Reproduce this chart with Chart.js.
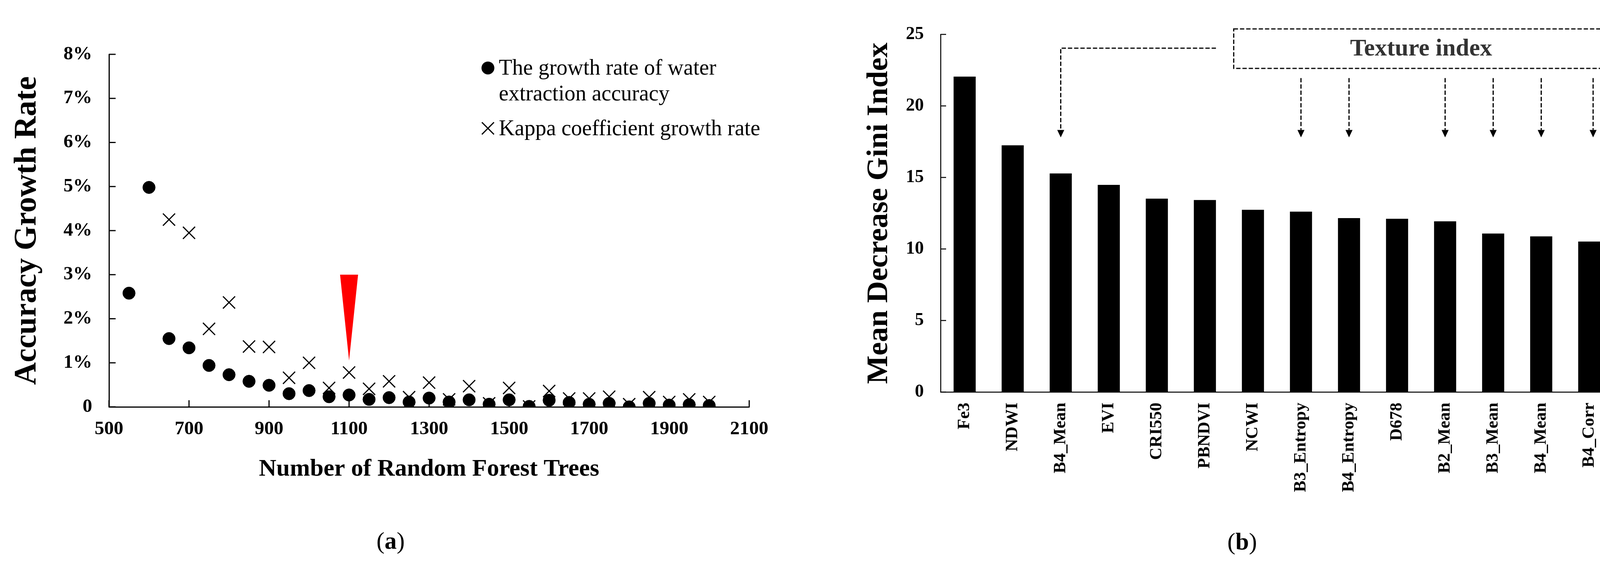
<!DOCTYPE html>
<html><head><meta charset="utf-8">
<script src="https://cdn.jsdelivr.net/npm/chart.js@4.4.0/dist/chart.umd.min.js"></script>
<style>
html,body{margin:0;padding:0;background:#fff;width:4177px;height:1443px;overflow:hidden;}
#ca{position:absolute;left:0;top:0;width:2080px;height:1443px;}
#cb{position:absolute;left:2080px;top:0;width:2097px;height:1443px;}
</style></head><body>
<canvas id="ca" width="2080" height="1443"></canvas>
<canvas id="cb" width="2097" height="1443"></canvas>
<script>
// ---------- Data: panel (a) ----------
const treeCounts = [550,600,650,700,750,800,850,900,950,1000,1050,1100,1150,1200,1250,1300,1350,1400,1450,1500,1550,1600,1650,1700,1750,1800,1850,1900,1950,2000];
const waterAccuracyGrowth = [2.58,4.98,1.55,1.34,0.94,0.73,0.58,0.49,0.30,0.37,0.23,0.27,0.17,0.21,0.11,0.20,0.11,0.16,0.06,0.16,0.01,0.15,0.10,0.06,0.08,0.00,0.08,0.04,0.05,0.03];
const kappaGrowth = [null,null,4.25,3.95,1.77,2.37,1.37,1.36,0.66,1.00,0.43,0.78,0.41,0.58,0.22,0.55,0.17,0.47,0.08,0.43,0.01,0.36,0.19,0.19,0.23,0.06,0.22,0.11,0.17,0.11];
const xTickValuesA = [500,700,900,1100,1300,1500,1700,1900,2100];
const yTickValuesA = [0,1,2,3,4,5,6,7,8];
const seriesNamesA = [['The growth rate of water','extraction accuracy'],['Kappa coefficient growth rate']];
const markerTrees = 1100;       // selected number of trees (red marker)
const markerRange = [3.0,1.05]; // marker top / tip (%)

// ---------- Data: panel (b) ----------
const features = ['Fe3','NDWI','B4_Mean','EVI','CRI550','PBNDVI','NCWI','B3_Entropy','B4_Entropy','D678','B2_Mean','B3_Mean','B4_Mean','B4_Corr'];
const giniValues = [22.05,17.25,15.28,14.48,13.52,13.42,12.74,12.61,12.16,12.11,11.93,11.08,10.88,10.52];
const yTickValuesB = [0,5,10,15,20,25];
const textureFeatureIdx = [2,7,8,10,11,12,13];

const serif = "'Liberation Serif','Times New Roman',serif";

function drawCaption(ctx, cx, cy, letter){
  ctx.save();
  ctx.fillStyle='#000'; ctx.textBaseline='middle'; ctx.textAlign='left';
  const reg = '62px '+serif, bold = 'bold 62px '+serif;
  ctx.font=reg; const w1=ctx.measureText('(').width, w3=ctx.measureText(')').width;
  ctx.font=bold; const w2=ctx.measureText(letter).width;
  let x = cx-(w1+w2+w3)/2;
  ctx.font=reg; ctx.fillText('(',x,cy); x+=w1;
  ctx.font=bold; ctx.fillText(letter,x,cy); x+=w2;
  ctx.font=reg; ctx.fillText(')',x,cy);
  ctx.restore();
}

function inwardTicks(len, width, doX){
  return {
    id:'inwardTicks',
    afterDraw(chart){
      const {ctx, chartArea:a, scales:{x,y}} = chart;
      ctx.save(); ctx.strokeStyle='#000'; ctx.lineWidth=width;
      y.ticks.forEach((t,i)=>{const p=y.getPixelForTick(i); ctx.beginPath(); ctx.moveTo(a.left,p); ctx.lineTo(a.left+len,p); ctx.stroke();});
      if(doX) x.ticks.forEach((t,i)=>{const p=x.getPixelForTick(i); ctx.beginPath(); ctx.moveTo(p,a.bottom); ctx.lineTo(p,a.bottom-len); ctx.stroke();});
      ctx.restore();
    }
  };
}

// ---------- Panel (a) ----------
const decorA = {
  id:'decorA',
  afterDraw(chart){
    const {ctx, scales:{x,y}} = chart;
    // red marker
    const px = x.getPixelForValue(markerTrees);
    const hw = x.getPixelForValue(markerTrees+22.5)-px;
    const top = y.getPixelForValue(markerRange[0]), tip = y.getPixelForValue(markerRange[1]);
    ctx.save();
    ctx.fillStyle='#FF0000';
    ctx.beginPath(); ctx.moveTo(px-hw,top); ctx.lineTo(px+hw,top); ctx.lineTo(px,tip); ctx.closePath(); ctx.fill();
    // legend
    const lx = x.getPixelForValue(1447);
    const r1 = y.getPixelForValue(7.69), r2 = y.getPixelForValue(6.32);
    ctx.fillStyle='#000'; ctx.strokeStyle='#000';
    ctx.beginPath(); ctx.arc(lx,r1,16.5,0,Math.PI*2); ctx.fill();
    ctx.lineWidth=3; const d=15.5;
    ctx.beginPath(); ctx.moveTo(lx-d,r2-d); ctx.lineTo(lx+d,r2+d); ctx.moveTo(lx+d,r2-d); ctx.lineTo(lx-d,r2+d); ctx.stroke();
    ctx.font='56px '+serif; ctx.textBaseline='alphabetic'; ctx.textAlign='left';
    const tx = lx+28;
    ctx.fillText(seriesNamesA[0][0], tx, r1+17);
    ctx.fillText(seriesNamesA[0][1], tx, r1+83);
    ctx.fillText(seriesNamesA[1][0], tx, r2+18);
    ctx.restore();
    drawCaption(ctx, 1000, 1388, 'a');
  }
};

new Chart(document.getElementById('ca'), {
  type:'scatter',
  data:{
    datasets:[
      {label:seriesNamesA[0].join(' '), data:treeCounts.map((t,i)=>({x:t,y:waterAccuracyGrowth[i]})),
       pointStyle:'circle', pointRadius:16, pointBorderWidth:1, backgroundColor:'#000', borderColor:'#000'},
      {label:seriesNamesA[1][0], data:treeCounts.map((t,i)=>({x:t,y:kappaGrowth[i]})).filter(p=>p.y!==null),
       pointStyle:'crossRot', pointRadius:22, pointBorderWidth:3, backgroundColor:'#000', borderColor:'#000'}
    ]
  },
  options:{
    responsive:false, devicePixelRatio:1, animation:false,
    layout:{padding:{left:0,top:139,right:162,bottom:152}},
    plugins:{legend:{display:false}, tooltip:{enabled:false}},
    scales:{
      x:{type:'linear', min:500, max:2100,
        afterBuildTicks(s){ s.ticks = xTickValuesA.map(v=>({value:v})); },
        afterFit(s){ s.height=250; },
        grid:{display:false, drawTicks:false},
        border:{display:true, color:'#000', width:3},
        ticks:{color:'#000', padding:28, font:{family:serif, size:49, weight:'bold'}, callback:v=>String(v)},
        title:{display:true, text:'Number of Random Forest Trees', color:'#000', font:{family:serif,size:62,weight:'bold'}, padding:{top:0,bottom:53}}
      },
      y:{type:'linear', min:0, max:8,
        afterBuildTicks(s){ s.ticks = yTickValuesA.map(v=>({value:v})); },
        afterFit(s){ s.width=279; },
        grid:{display:false, drawTicks:false},
        border:{display:true, color:'#000', width:3},
        ticks:{color:'#000', padding:43, font:{family:serif, size:49, weight:'bold'}, callback:v=> v===0?'0':v+'%'},
        title:{display:true, text:'Accuracy Growth Rate', color:'#000', font:{family:serif,size:80,weight:'bold'}, padding:{top:22,bottom:0}}
      }
    }
  },
  plugins:[inwardTicks(17,3,true), decorA]
});

// ---------- Panel (b) ----------
const decorB = {
  id:'decorB',
  afterDraw(chart){
    const {ctx, scales:{x,y}} = chart;
    ctx.save();
    ctx.strokeStyle='#000'; ctx.fillStyle='#000'; ctx.lineWidth=3; ctx.setLineDash([11,5]);
    // dashed box
    const bl=x.getPixelForValue(5.6), br=x.getPixelForValue(13.39), bt=y.getPixelForValue(25.38), bb=y.getPixelForValue(22.62);
    ctx.strokeRect(bl,bt,br-bl,bb-bt);
    const tipY = y.getPixelForValue(17.8), headH=19, headW=9;
    // leader to first texture feature
    const ly = y.getPixelForValue(24.04);
    const lx0 = x.getPixelForValue(5.23), lx1 = x.getPixelForValue(textureFeatureIdx[0]);
    ctx.beginPath(); ctx.moveTo(lx0,ly); ctx.lineTo(lx1,ly); ctx.lineTo(lx1,tipY-headH); ctx.stroke();
    const arrowTop = y.getPixelForValue(21.95);
    textureFeatureIdx.slice(1).forEach(i=>{
      const px = x.getPixelForValue(i===13?13.08:i);
      ctx.beginPath(); ctx.moveTo(px,arrowTop); ctx.lineTo(px,tipY-headH); ctx.stroke();
    });
    ctx.setLineDash([]);
    textureFeatureIdx.forEach(i=>{
      const px = x.getPixelForValue(i===13?13.08:i);
      ctx.beginPath(); ctx.moveTo(px-headW,tipY-headH); ctx.lineTo(px+headW,tipY-headH); ctx.lineTo(px,tipY); ctx.closePath(); ctx.fill();
    });
    ctx.fillStyle='#333'; ctx.font='bold 62px '+serif; ctx.textAlign='center'; ctx.textBaseline='middle';
    ctx.fillText('Texture index', x.getPixelForValue(9.5), y.getPixelForValue(23.95));
    ctx.restore();
    drawCaption(ctx, 1100, 1390, 'b');
  }
};

new Chart(document.getElementById('cb'), {
  type:'bar',
  data:{labels:features, datasets:[{data:giniValues, backgroundColor:'#000', borderWidth:0, barPercentage:0.46, categoryPercentage:1.0}]},
  options:{
    responsive:false, devicePixelRatio:1, animation:false,
    layout:{padding:{left:0,top:88,right:47,bottom:140}},
    plugins:{legend:{display:false}, tooltip:{enabled:false}},
    scales:{
      x:{
        afterFit(s){ s.height=300; },
        grid:{display:false, drawTicks:false},
        border:{display:true, color:'#000', width:2.5},
        ticks:{color:'#000', padding:27, autoSkip:false, minRotation:90, maxRotation:90, font:{family:serif,size:44,weight:'bold'}}
      },
      y:{min:0, max:25,
        afterBuildTicks(s){ s.ticks = yTickValuesB.map(v=>({value:v})); },
        afterFit(s){ s.width=328; },
        grid:{display:false, drawTicks:false},
        border:{display:true, color:'#000', width:2.5},
        ticks:{color:'#000', padding:43, font:{family:serif,size:46,weight:'bold'}},
        title:{display:true, text:'Mean Decrease Gini Index', color:'#000', font:{family:serif,size:77,weight:'bold'}, padding:{top:125,bottom:0}}
      }
    }
  },
  plugins:[inwardTicks(14,2.5,false), decorB]
});
</script></body></html>
